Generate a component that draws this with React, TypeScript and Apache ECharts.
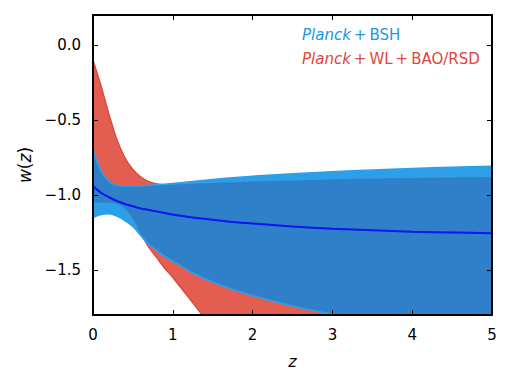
import React, { useEffect, useRef } from "react";
import * as echarts from "echarts";

const zs = [0, 0.1, 0.2, 0.3, 0.4, 0.5, 0.6, 0.7, 0.8, 0.9, 1, 1.25, 1.5, 1.75, 2, 2.5, 3, 3.5, 4, 4.5, 5];

const redUpper = [-0.1, -0.27, -0.46, -0.63, -0.75, -0.83, -0.88, -0.91, -0.925, -0.93, -0.93, -0.925, -0.92, -0.915, -0.91, -0.903, -0.896, -0.89, -0.886, -0.883, -0.88];
const redLower = [-1.05, -1.05, -1.05, -1.06, -1.09, -1.16, -1.26, -1.35, -1.42, -1.49, -1.55, -1.72, -1.89, -2.06, -2.23, -2.5, -2.7, -2.9, -3.1, -3.3, -3.5];

const blueUpper = [-0.7, -0.84, -0.91, -0.935, -0.94, -0.94, -0.938, -0.935, -0.932, -0.928, -0.924, -0.91, -0.897, -0.885, -0.875, -0.858, -0.845, -0.833, -0.824, -0.815, -0.808];
const blueLower = [-1.15, -1.13, -1.125, -1.14, -1.17, -1.21, -1.27, -1.33, -1.37, -1.41, -1.44, -1.52, -1.58, -1.63, -1.67, -1.74, -1.795, -1.84, -1.88, -1.92, -1.96];

const meanW = [-0.94, -0.985, -1.015, -1.04, -1.06, -1.075, -1.09, -1.1, -1.11, -1.12, -1.13, -1.15, -1.165, -1.18, -1.19, -1.21, -1.225, -1.235, -1.245, -1.25, -1.255];

const yTicks = [-1.5, -1.0, -0.5, 0.0];
const xTicks = [0, 1, 2, 3, 4, 5];

const FONT = "DejaVu Sans";
const RED = "#e35d51";
const RED_EDGE = "#d9443a";
const LIGHT = "#2d9fe8";
const DARK = "#2f80c8";
const MEAN = "#0a14ee";

const pair = (ys: number[]) => zs.map((z, i) => [z, ys[i]]);

export default function App() {
  const ref = useRef<HTMLDivElement>(null);
  useEffect(() => {
    if (!ref.current) return;
    document.body.style.margin = "0";
    const chart = echarts.init(ref.current, undefined, { renderer: "svg" });

    const ovUpper = zs.map((_, i) => Math.min(redUpper[i], blueUpper[i]));
    const ovLower = zs.map((_, i) => Math.max(redLower[i], blueLower[i]));

    const band = (
      name: string,
      lower: number[],
      upper: number[],
      fill: string | null,
      edge: string | null,
      edgeW: number
    ) => ({
      name,
      type: "custom",
      clip: true,
      silent: true,
      data: [[0, 0]],
      renderItem: (_params: any, api: any) => {
        const up = zs.map((z, i) => api.coord([z, upper[i]]));
        const lo = zs.map((z, i) => api.coord([z, lower[i]]));
        const n = up.length;
        const children: any[] = [];
        if (fill) {
          const loRev = lo.slice().reverse();
          const pts = [up[0], ...up, up[n - 1], lo[n - 1], ...loRev, lo[0]];
          children.push({
            type: "polygon",
            shape: { points: pts, smooth: 0.3 },
            style: { fill, stroke: null },
          });
        }
        if (edge) {
          children.push({
            type: "polyline",
            shape: { points: up, smooth: 0.3 },
            style: { stroke: edge, lineWidth: edgeW, fill: null },
          });
          children.push({
            type: "polyline",
            shape: { points: lo, smooth: 0.3 },
            style: { stroke: edge, lineWidth: edgeW, fill: null },
          });
        }
        return { type: "group", children };
      },
    });

    const fmt = (v: number) => (v < 0 ? "\u2212" : "") + Math.abs(v).toFixed(1);

    chart.setOption({
      animation: false,
      grid: { left: 93, right: 20, top: 15, bottom: 69 },
      xAxis: [
        {
          type: "value",
          min: 0,
          max: 5,
          interval: 1,
          name: "z",
          nameLocation: "middle",
          nameGap: 38,
          nameTextStyle: { fontFamily: FONT, fontSize: 16, fontStyle: "italic", color: "#000" },
          axisLine: { onZero: false, lineStyle: { color: "#000", width: 2 } },
          axisTick: { inside: true, length: 5, lineStyle: { color: "#000", width: 1 } },
          axisLabel: { fontFamily: FONT, fontSize: 15, color: "#000", margin: 12, customValues: xTicks },
          splitLine: { show: false },
          z: 10,
        },
        {
          type: "value",
          position: "top",
          min: 0,
          max: 5,
          interval: 1,
          axisLine: { onZero: false, lineStyle: { color: "#000", width: 2 } },
          axisTick: { inside: true, length: 5, lineStyle: { color: "#000", width: 1 } },
          axisLabel: { show: false },
          splitLine: { show: false },
          z: 10,
        },
      ],
      yAxis: [
        {
          type: "value",
          min: -1.8,
          max: 0.2,
          name: "{i|w}({i|z})",
          nameLocation: "middle",
          nameGap: 55,
          nameRotate: 90,
          nameTextStyle: {
            fontFamily: FONT,
            fontSize: 17,
            color: "#000",
            rich: { i: { fontFamily: FONT, fontSize: 17, fontStyle: "italic", color: "#000" } },
          },
          axisLine: { onZero: false, lineStyle: { color: "#000", width: 2 } },
          axisTick: { inside: true, length: 5, lineStyle: { color: "#000", width: 1 }, customValues: yTicks },
          axisLabel: { fontFamily: FONT, fontSize: 15, color: "#000", margin: 12, customValues: yTicks, formatter: fmt },
          splitLine: { show: false },
          z: 10,
        },
        {
          type: "value",
          position: "right",
          min: -1.8,
          max: 0.2,
          axisLine: { onZero: false, lineStyle: { color: "#000", width: 2 } },
          axisTick: { inside: true, length: 5, lineStyle: { color: "#000", width: 1 }, customValues: yTicks },
          axisLabel: { show: false },
          splitLine: { show: false },
          z: 10,
        },
      ],
      series: [
        band("red", redLower, redUpper, RED, RED_EDGE, 1.2),
        band("blue", blueLower, blueUpper, LIGHT, null, 0),
        band("overlap", ovLower, ovUpper, DARK, null, 0),
        band("blueEdges", blueLower, blueUpper, null, LIGHT, 1.6),
        {
          name: "mean",
          type: "line",
          data: pair(meanW),
          symbol: "none",
          smooth: 0.3,
          lineStyle: { color: MEAN, width: 2 },
          silent: true,
        },
      ],
      graphic: [
        {
          type: "text",
          left: 302,
          top: 27,
          style: {
            text: "{i|Planck}\u2009+\u2009BSH",
            fontFamily: FONT,
            fontSize: 15,
            fill: "#2196e6",
            rich: { i: { fontFamily: FONT, fontSize: 15, fontStyle: "italic", fill: "#2196e6" } },
          },
        },
        {
          type: "text",
          left: 302,
          top: 51,
          style: {
            text: "{i|Planck}\u2009+\u2009WL\u2009+\u2009BAO/RSD",
            fontFamily: FONT,
            fontSize: 15,
            fill: "#e0463c",
            rich: { i: { fontFamily: FONT, fontSize: 15, fontStyle: "italic", fill: "#e0463c" } },
          },
        },
      ],
    });
    return () => chart.dispose();
  }, []);
  return <div ref={ref} style={{ width: 512, height: 384 }} />;
}
